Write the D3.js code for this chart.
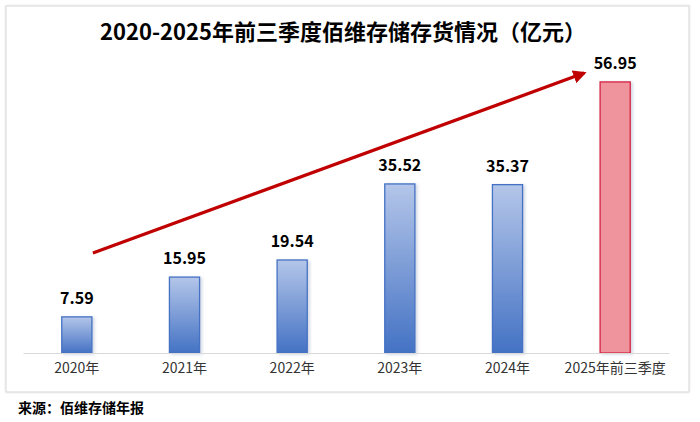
<!DOCTYPE html>
<html><head><meta charset="utf-8">
<script src="https://cdn.jsdelivr.net/npm/d3@7/dist/d3.min.js"></script>
<style>html,body{margin:0;padding:0;background:#fff;}svg{display:block;}</style>
</head><body>
<script>
const categories = ["2020年","2021年","2022年","2023年","2024年","2025年前三季度"];
const values = [7.59, 15.95, 19.54, 35.52, 35.37, 56.95];
const highlight = [false,false,false,false,false,true];
const title = "2020-2025年前三季度佰维存储存货情况（亿元）";
const source = "来源：佰维存储年报";

const W = 700, H = 422;
const svg = d3.select("body").append("svg").attr("width", W).attr("height", H);
const defs = svg.append("defs");
const gb = defs.append("linearGradient").attr("id","gBlue").attr("x1",0).attr("y1",0).attr("x2",0).attr("y2",1);
gb.append("stop").attr("offset","0%").attr("stop-color","#b4c6e9");
gb.append("stop").attr("offset","100%").attr("stop-color","#4472c4");
const f = defs.append("filter").attr("id","sh").attr("x","-30%").attr("y","-10%").attr("width","170%").attr("height","130%");
f.append("feDropShadow").attr("dx",2).attr("dy",1).attr("stdDeviation",1.5).attr("flood-color","#8090b0").attr("flood-opacity",0.35);
const fb = defs.append("filter").attr("id","frameSh").attr("x","-5%").attr("y","-5%").attr("width","110%").attr("height","110%");
fb.append("feDropShadow").attr("dx",0).attr("dy",0).attr("stdDeviation",1.2).attr("flood-color","#000").attr("flood-opacity",0.12);
const mk = defs.append("marker").attr("id","arr").attr("viewBox","0 0 10 10").attr("refX",8).attr("refY",5)
  .attr("markerWidth",4.2).attr("markerHeight",4.2).attr("orient","auto").attr("markerUnits","strokeWidth");
mk.append("path").attr("d","M0,0 L10,5 L0,10 z").attr("fill","#c00000");

// frame
svg.append("rect").attr("x",6).attr("y",6).attr("width",683).attr("height",386)
  .attr("fill","#fff").attr("stroke","#dcdcdc").attr("stroke-width",1.2).attr("filter","url(#frameSh)");

svg.append("text").attr("x",343).attr("y",40).attr("text-anchor","middle")
  .attr("font-family","'Noto Sans CJK SC', sans-serif").attr("font-weight","bold").attr("font-size",22)
  .attr("fill","#000").text(title);

const x = d3.scaleBand().domain(categories).range([23,669]).paddingInner(0.72).paddingOuter(0.36);
const y = d3.scaleLinear().domain([0,60]).range([353, 353-60*4.76]);

const g = svg.append("g");
g.selectAll("rect.bar").data(values).join("rect").attr("class","bar")
  .attr("x",(d,i)=>x(categories[i])).attr("width",x.bandwidth())
  .attr("y",d=>y(d)).attr("height",d=>y(0)-y(d))
  .attr("fill",(d,i)=>highlight[i]?"#ef939d":"url(#gBlue)")
  .attr("stroke",(d,i)=>highlight[i]?"#d6213f":"#4472c4").attr("stroke-width",1.3)
  .attr("filter","url(#sh)");

g.selectAll("text.val").data(values).join("text").attr("class","val")
  .attr("x",(d,i)=>x(categories[i])+x.bandwidth()/2).attr("y",d=>y(d)-13)
  .attr("text-anchor","middle").attr("font-family","'Noto Sans CJK SC', sans-serif")
  .attr("font-weight","bold").attr("font-size",16).attr("fill","#000").text(d=>d.toFixed(2));

// axis
const ax = svg.append("g").attr("transform",`translate(0,${y(0)})`)
  .call(d3.axisBottom(x).tickSize(0).tickPadding(10));
ax.select(".domain").attr("stroke","#d9d9d9").attr("stroke-width",1.2);
ax.selectAll("text").attr("font-family","'Noto Sans CJK SC', sans-serif").attr("font-size",14).attr("fill","#333");

// trend arrow
const i0 = 0, i1 = categories.length-1;
svg.append("line")
  .attr("x1", x(categories[i0])+x.bandwidth()+1).attr("y1", y(21))
  .attr("x2", x(categories[i1])-16).attr("y2", y(58.8))
  .attr("stroke","#c00000").attr("stroke-width",3.2).attr("marker-end","url(#arr)");

svg.append("text").attr("x",18).attr("y",413)
  .attr("font-family","'Noto Sans CJK SC', sans-serif").attr("font-weight","bold").attr("font-size",14)
  .attr("fill","#000").text(source);
</script>
</body></html>
